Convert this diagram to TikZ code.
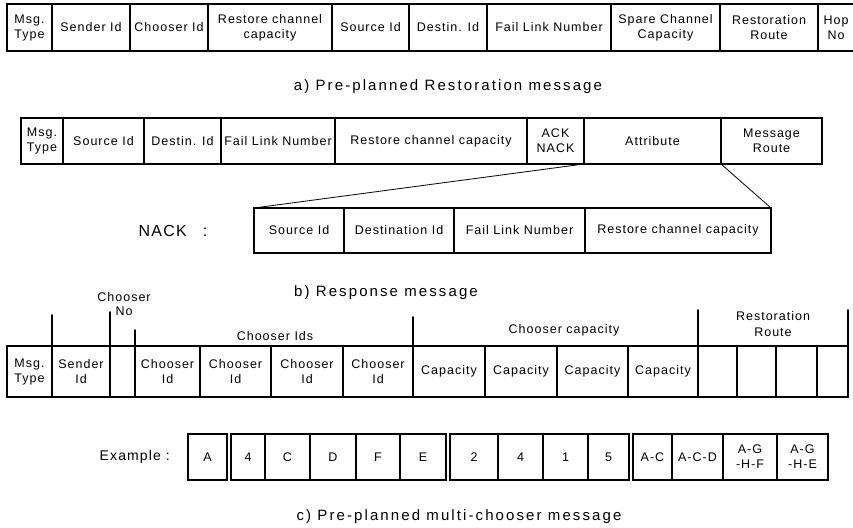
\documentclass[tikz,border=0pt]{standalone}
\usepackage{fontspec}
\setmainfont{Liberation Sans}
\newfontfamily\cellfont[LetterSpace=8]{Liberation Sans}
\newfontfamily\capfont[LetterSpace=14]{Liberation Sans}
\usepackage{tikz}

\begin{document}
\begin{tikzpicture}[x=1pt,y=-1pt,line cap=round,
	field/.style={draw,line width=1.6pt,inner sep=0pt,outer sep=0pt,align=center,
		font=\cellfont\fontsize{12.5}{15}\selectfont},
	head/.style={inner sep=0pt,align=center,font=\cellfont\fontsize{12.5}{14}\selectfont},
	caption/.style={inner sep=0pt,font=\capfont\fontsize{15}{18}\selectfont}]
	\useasboundingbox (0,0) rectangle (853,527);
	%% a) Pre-planned restoration message
	\foreach \l/\r/\t [count=\i] in {7/52/{Msg.\\Type},52/130/Sender Id,130/208/Chooser Id,
		208/332/{Restore channel\\capacity},332/409/Source Id,409/487/Destin. Id,
		487/611/Fail Link Number,611/720/{Spare Channel\\Capacity},720/818/{Restoration\\Route}}
		\node[field,minimum width=\r-\l,minimum height=47] (a\i) at ({(\l+\r)/2},27.5) {\t};
	\node[head,font=\cellfont\fontsize{12.5}{15}\selectfont] (a10) at (836,27.5) {Hop\\No};
	\coordinate (aendtop) at (853,4);
	\coordinate (aendbot) at (853,51);
	\draw[line width=1.6pt] (a9.north east) -- (aendtop);
	\draw[line width=1.6pt] (a9.south east) -- (aendbot);
	\node[caption] (capa) at (448,87) {a) Pre-planned Restoration message};
	%% b) Response message
	\foreach \l/\r/\t [count=\i] in {21/63/{Msg.\\Type},63/144/Source Id,144/221/Destin. Id,
		221/335/Fail Link Number,335/527/Restore channel capacity,527/584/{ACK\\NACK},
		584/721/Attribute,721/822/{Message\\Route}}
		\node[field,minimum width=\r-\l,minimum height=46] (b\i) at ({(\l+\r)/2},141) {\t};
	%% NACK fields
	\foreach \l/\r/\t [count=\i] in {254/344/Source Id,344/454/Destination Id,
		454/585/Fail Link Number,585/771/Restore channel capacity}
		\node[field,minimum width=\r-\l,minimum height=45] (n\i) at ({(\l+\r)/2},230.5) {\t};
	\node[head,font=\cellfont\fontsize{16}{18}\selectfont] (nack) at (173,231) {NACK\quad:};
	\draw[line width=0.8pt] (b7.south west) -- (n1.north west);
	\draw[line width=0.8pt] (b7.south east) -- (n4.north east);
	\node[caption] (capb) at (386,293) {b) Response message};
	%% c) Pre-planned multi-chooser message
	\foreach \l/\r/\t [count=\i] in {7/52/{Msg.\\Type},52/110/{Sender\\Id},110/135/{},
		135/200/{Chooser\\Id},200/271/{Chooser\\Id},271/343/{Chooser\\Id},343/413/{Chooser\\Id},
		413/485/Capacity,485/557/Capacity,557/628/Capacity,628/698/Capacity,
		698/737/{},737/776/{},776/817/{},817/848/{}}
		\node[field,minimum width=\r-\l,minimum height=51] (c\i) at ({(\l+\r)/2},371.5) {\t};
	%% Headers
	\draw[line width=1.6pt] (c2.north west) -- ++(0,-31);
	\draw[line width=1.6pt] (c3.north west) -- ++(0,-34);
	\draw[line width=1.6pt] (c4.north west) -- ++(0,-16);
	\draw[line width=1.6pt] (c7.north east) -- ++(0,-29);
	\draw[line width=1.6pt] (c11.north east) -- ++(0,-36);
	\draw[line width=1.6pt] (c15.north east) -- ++(0,-36);
	\node[head] (hno) at (124,304) {Chooser\\No};
	\node[head] (hids) at (275,336) {Chooser Ids};
	\node[head] (hcap) at (564,330) {Chooser capacity};
	\node[head,font=\cellfont\fontsize{12.5}{16}\selectfont] (hroute) at (773,324) {Restoration\\Route};
	%% Example
	\node[head,anchor=east,font=\cellfont\fontsize{14}{16}\selectfont] (ex) at (170,457) {Example :};
	\foreach \l/\r/\t [count=\i] in {188/227/A,231/265/4,265/310/C,310/356/D,356/400/F,
		400/446/E,450/498/2,498/543/4,543/588/1,588/629/5,633/672/A-C,672/723/A-C-D,
		723/777/{A-G\\-H-F},777/828/{A-G\\-H-E}}
		\node[field,minimum width=\r-\l,minimum height=46] (e\i) at ({(\l+\r)/2},457) {\t};
	\node[caption] (capc) at (459,517) {c) Pre-planned multi-chooser message};
\end{tikzpicture}
\end{document}
